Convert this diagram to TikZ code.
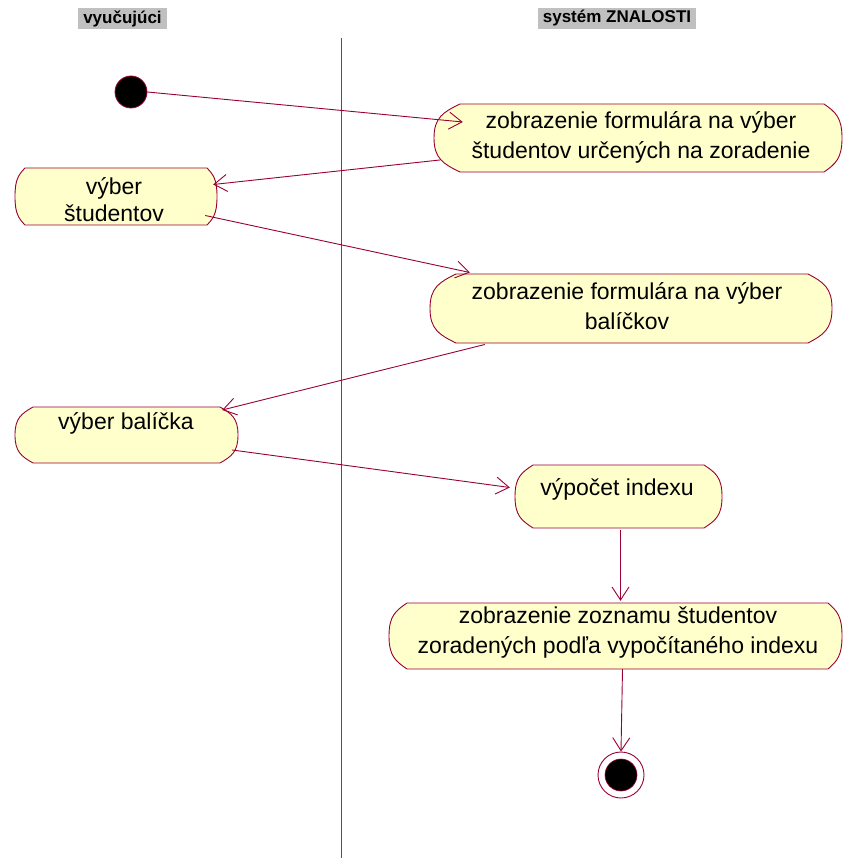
\documentclass[tikz,border=0pt]{standalone}
\usepackage{fontspec}
\setmainfont{Liberation Sans}
\usetikzlibrary{arrows.meta}
\definecolor{rose}{HTML}{990033}
\definecolor{lane}{HTML}{B0205A}
\definecolor{boxfill}{HTML}{FFFFCC}
\definecolor{hdr}{HTML}{C0C0C0}
\tikzset{
  flow/.style={draw=rose, line width=0.9pt, -{Straight Barb[length=13pt,width=17pt,line width=0.9pt]}},
  boxline/.style={draw=rose, fill=boxfill, line width=0.9pt},
  boxtext/.style={font=\fontsize{23}{30}\selectfont, align=center, inner sep=0pt, text=black},
  header/.style={fill=hdr, font=\bfseries\fontsize{17}{19}\selectfont, inner sep=0pt, text=black},
}
% \actbox{name}{x0}{y0}{x1}{y1}{dleft}{dright}
\newcommand{\actbox}[7]{%
  \pgfmathsetmacro{\ym}{(#3+#5)/2}%
  \pgfmathsetmacro{\hh}{(#5-#3)}%
  \draw[boxline] (#2+#6,#3) -- (#4-#7,#3)
     .. controls (#4-0.35*#7,#3+0.12*\hh) and (#4,\ym-0.3*\hh) .. (#4,\ym)
     .. controls (#4,\ym+0.3*\hh) and (#4-0.35*#7,#5-0.12*\hh) .. (#4-#7,#5)
     -- (#2+#6,#5)
     .. controls (#2+0.35*#6,#5-0.12*\hh) and (#2,\ym+0.3*\hh) .. (#2,\ym)
     .. controls (#2,\ym-0.3*\hh) and (#2+0.35*#6,#3+0.12*\hh) .. (#2+#6,#3) -- cycle;
  \node[inner sep=0pt, minimum width={(#4-#2)*1pt}, minimum height={(#5-#3)*1pt}] (#1) at ({(#2+#4)/2},\ym) {};
}
\begin{document}
\begin{tikzpicture}[x=1pt,y=-1pt]
\useasboundingbox (0,0) rectangle (842,858);
% headers
\node[header, minimum width=89pt, minimum height=21pt] (h1) at (122.5,18.5) {vyučujúci};
\node[header, minimum width=158pt, minimum height=21pt] (h2) at (617,18.5) {systém ZNALOSTI};
% swimlane
\coordinate (laneTop) at (341,38);
\coordinate (laneBot) at (341,858);
\draw[draw=lane, line width=0.9pt] (laneTop) -- (laneBot);
% start
\node[circle, fill=black, draw=rose, line width=0.8pt, minimum size=32pt, inner sep=0pt] (start) at (131,92) {};
% boxes
\actbox{A}{434}{104}{842}{172}{26}{18}
\actbox{B}{15}{168}{217}{225}{10}{10}
\actbox{C}{430}{274}{832}{343}{26}{24}
\actbox{D}{15}{407}{238}{463}{18}{18}
\actbox{E}{515}{465}{722}{528}{18}{18}
\actbox{F}{389}{603}{842}{669}{18}{14}
% texts
\node[boxtext] (tA) at (641,137) {zobrazenie formulára na výber\\študentov určených na zoradenie};
\node[boxtext, font=\fontsize{23}{27}\selectfont] (tB) at (114,199.5) {výber\\študentov};
\node[boxtext] (tC) at (627,306) {zobrazenie formulára na výber\\balíčkov};
\node[boxtext] (tD) at (126,423) {výber balíčka};
\node[boxtext] (tE) at (617,489) {výpočet indexu};
\node[boxtext] (tF) at (618,633) {zobrazenie zoznamu študentov\\zoradených podľa vypočítaného indexu};
% end
\node[circle, draw=rose, fill=white, line width=0.9pt, minimum size=46pt, inner sep=0pt] (endo) at (621,775) {};
\node[circle, fill=black, draw=rose, line width=0.6pt, minimum size=32pt, inner sep=0pt] (endi) at (621,775) {};
% connectors
\draw[flow] (start.east) -- ([shift={(29,-16)}]A.west);
\draw[flow] ([shift={(6,22)}]A.west) -- ([shift={(-4,-12)}]B.east);
\draw[flow] ([shift={(-12,19)}]B.east) -- ([shift={(40,-36)}]C.west);
\draw[flow] ([shift={(55,36)}]C.west) -- ([shift={(-16,-25)}]D.east);
\draw[flow] ([shift={(-6,15)}]D.east) -- ([shift={(-5,-9)}]E.west);
\draw[flow] ([shift={(2,2)}]E.south) -- ([shift={(5,-2)}]F.north);
\draw[flow] ([shift={(7,0)}]F.south) -- (endo.north);
\end{tikzpicture}
\end{document}
